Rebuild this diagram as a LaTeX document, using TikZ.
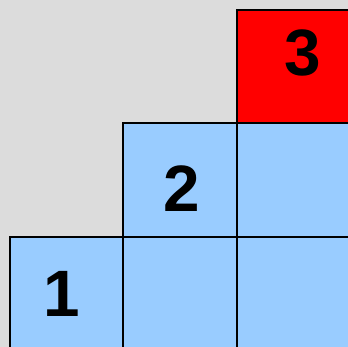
\documentclass[tikz,border=0pt]{standalone}
\usepackage{fontspec}
\setmainfont{Liberation Sans}
\definecolor{bggray}{HTML}{DCDCDC}
\definecolor{cellblue}{HTML}{99CCFF}
\definecolor{cellred}{HTML}{FF0000}
\begin{document}
\begin{tikzpicture}[x=1pt,y=1pt,
  cell/.style={draw=black,line width=1.8pt},
  num/.style={inner sep=0pt,font=\fontsize{65.6}{70}\selectfont\bfseries}]
\fill[bggray] (0,0) rectangle (348,347);
\useasboundingbox (0,0) rectangle (348,347);
\begin{scope}
\clip (0,0) rectangle (348,347);
% row 1 (top)
\path[cell,fill=cellred] (236.7,337) rectangle (350,223.7);
% row 2
\path[cell,fill=cellblue] (123.3,223.7) rectangle (236.7,110.3);
\path[cell,fill=cellblue] (236.7,223.7) rectangle (350,110.3);
% row 3
\path[cell,fill=cellblue] (10,110.3) rectangle (123.3,-3);
\path[cell,fill=cellblue] (123.3,110.3) rectangle (236.7,-3);
\path[cell,fill=cellblue] (236.7,110.3) rectangle (350,-3);
\end{scope}
\node[num] (n3) at (303,294.5) {3};
\node[num] (n2) at (182,158.5) {2};
\node[num] (n1) at (61.6,53) {1};
\end{tikzpicture}
\end{document}
